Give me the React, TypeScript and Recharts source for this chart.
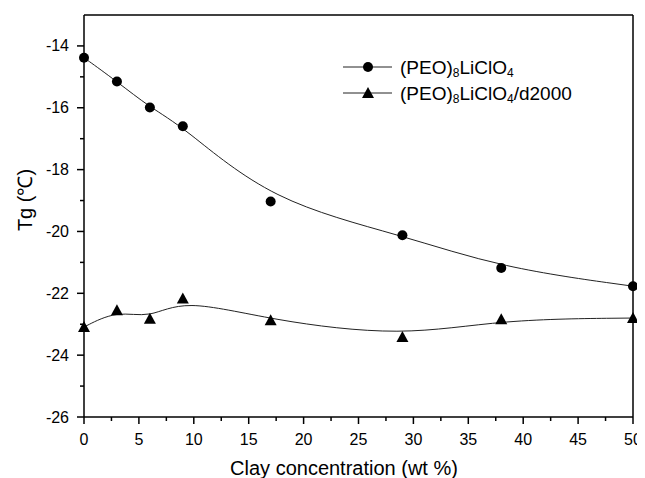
import { Line, LineChart, ReferenceLine, XAxis, YAxis } from "recharts";

const clay = [0, 3, 6, 9, 17, 29, 38, 50];
const tgPeo = [-14.38, -15.15, -15.99, -16.6, -19.03, -20.12, -21.18, -21.77];
const tgD2000 = [-23.09, -22.55, -22.82, -22.17, -22.87, -23.41, -22.84, -22.8];

const xTicks = [
  0, 2.5, 5, 7.5, 10, 12.5, 15, 17.5, 20, 22.5, 25, 27.5, 30, 32.5, 35, 37.5,
  40, 42.5, 45, 47.5, 50,
];
const yTicks = [-26, -25, -24, -23, -22, -21, -20, -19, -18, -17, -16, -15, -14];

const font = "Arial, 'Liberation Sans', sans-serif";

const data = clay.map((c, i) => ({ clay: c, peo: tgPeo[i], d2000: tgD2000[i] }));

const XTick = ({ x, y, payload }: any) => {
  const major = payload.value % 5 === 0;
  return (
    <g>
      <line x1={x} x2={x} y1={y} y2={y + (major ? 7 : 4)} stroke="#000" strokeWidth={1.5} />
      {major && (
        <text x={x} y={y + 22} textAnchor="middle" dominantBaseline="central" fontSize={16} fontFamily={font} fill="#000">
          {payload.value}
        </text>
      )}
    </g>
  );
};

const YTick = ({ x, y, payload }: any) => {
  const major = payload.value % 2 === 0;
  return (
    <g>
      <line x1={x} x2={x - (major ? 7 : 4)} y1={y} y2={y} stroke="#000" strokeWidth={1.5} />
      {major && (
        <text x={x - 15} y={y} textAnchor="end" dominantBaseline="central" fontSize={16} fontFamily={font} fill="#000">
          {payload.value}
        </text>
      )}
    </g>
  );
};

const Circle = ({ cx, cy }: any) => <circle cx={cx} cy={cy} r={5} fill="#000" />;

const Triangle = ({ cx, cy }: any) => (
  <path d={`M${cx},${cy - 6} L${cx + 6},${cy + 5} L${cx - 6},${cy + 5} Z`} fill="#000" />
);

export default function App() {
  return (
    <LineChart
      width={637}
      height={470}
      data={data}
      margin={{ top: 7, right: 12, bottom: 0, left: 0 }}
      style={{ fontFamily: font }}
    >
      <XAxis
        dataKey="clay"
        type="number"
        domain={[0, 50]}
        ticks={xTicks}
        interval={0}
        tickSize={0}
        tickMargin={0}
        tickLine={false}
        tick={<XTick />}
        height={61}
        axisLine={{ stroke: "#000", strokeWidth: 1.5 }}
      />
      <YAxis
        type="number"
        domain={[-26, -13]}
        ticks={yTicks}
        interval={0}
        tickSize={0}
        tickMargin={0}
        tickLine={false}
        tick={<YTick />}
        width={76}
        axisLine={{ stroke: "#000", strokeWidth: 1.5 }}
      />
      <ReferenceLine y={-13} stroke="#000" strokeWidth={1.5} />
      <ReferenceLine x={50} stroke="#000" strokeWidth={1.5} />
      <Line
        type="basis"
        dataKey="peo"
        stroke="#222"
        strokeWidth={1}
        dot={<Circle />}
        isAnimationActive={false}
      />
      <Line
        type="basis"
        dataKey="d2000"
        stroke="#222"
        strokeWidth={1}
        dot={<Triangle />}
        isAnimationActive={false}
      />
      <text x={17} y={192} transform="rotate(-90 17 192)" textAnchor="middle" dominantBaseline="central" fontSize={20} fontFamily={font}>
        Tg (℃)
      </text>
      <text x={336} y={467} textAnchor="middle" fontSize={20} fontFamily={font}>
        Clay concentration (wt %)
      </text>
      <g fontFamily={font} fill="#000">
        <line x1={335} x2={384} y1={59} y2={59} stroke="#222" strokeWidth={1} />
        <circle cx={360} cy={59} r={5} fill="#000" />
        <text x={392} y={59} dominantBaseline="central" fontSize={19}>
          (PEO)<tspan fontSize={12} dy={6}>8</tspan>
          <tspan dy={-6}>LiClO</tspan>
          <tspan fontSize={12} dy={6}>4</tspan>
        </text>
        <line x1={335} x2={384} y1={85} y2={85} stroke="#222" strokeWidth={1} />
        <path d="M360,79 L366,90 L354,90 Z" fill="#000" />
        <text x={392} y={85} dominantBaseline="central" fontSize={19}>
          (PEO)<tspan fontSize={12} dy={6}>8</tspan>
          <tspan dy={-6}>LiClO</tspan>
          <tspan fontSize={12} dy={6}>4</tspan>
          <tspan dy={-6}>/d2000</tspan>
        </text>
      </g>
    </LineChart>
  );
}
